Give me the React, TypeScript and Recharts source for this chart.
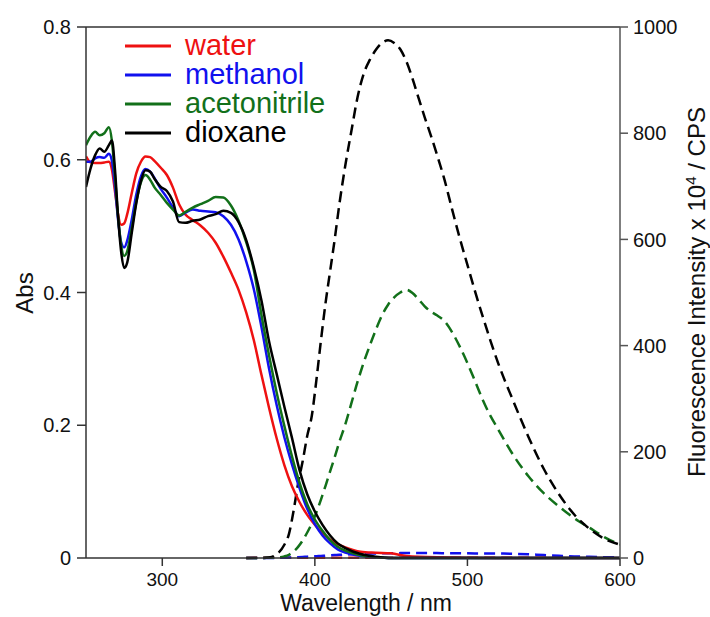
import React from 'react';
import { LineChart, Line, XAxis, YAxis, ReferenceLine, Label } from 'recharts';

// absorption spectra (left axis, Abs)
const absWavelength = [
  250, 253, 256, 259, 262, 265, 267, 269, 271, 273, 275, 277, 280, 283, 286, 289, 292, 295,
  299, 303, 307, 311, 315, 320, 325, 330, 335, 340, 345, 350, 355, 360, 365, 370, 375, 380,
  385, 390, 395, 400, 405, 410, 415, 420, 430, 440, 450, 460, 480, 520, 600,
];
const absWater = [
  0.605, 0.596, 0.595, 0.595, 0.596, 0.597, 0.585, 0.552, 0.518, 0.502, 0.504, 0.518, 0.55, 0.58, 0.597, 0.605, 0.604, 0.598,
  0.588, 0.577, 0.558, 0.533, 0.518, 0.509, 0.501, 0.49, 0.475, 0.454, 0.43, 0.404, 0.37, 0.328, 0.276, 0.226, 0.18, 0.14,
  0.108, 0.084, 0.065, 0.05, 0.037, 0.028, 0.021, 0.016, 0.0095, 0.008, 0.007, 0.003, 0.001, 0, 0,
];
const absMethanol = [
  0.597, 0.597, 0.602, 0.604, 0.603, 0.609, 0.598, 0.56, 0.51, 0.476, 0.468, 0.478, 0.51, 0.548, 0.575, 0.586, 0.582, 0.572,
  0.556, 0.543, 0.528, 0.515, 0.52, 0.525, 0.523, 0.522, 0.521, 0.515, 0.502, 0.48, 0.447, 0.405, 0.348, 0.285, 0.23, 0.182,
  0.141, 0.105, 0.074, 0.051, 0.034, 0.022, 0.013, 0.008, 0.003, 0.001, 0, 0, 0, 0, 0,
];
const absAcetonitrile = [
  0.622, 0.635, 0.642, 0.637, 0.64, 0.649, 0.628, 0.575, 0.515, 0.472, 0.455, 0.462, 0.497, 0.537, 0.566, 0.577, 0.57, 0.558,
  0.547, 0.535, 0.525, 0.516, 0.521, 0.528, 0.533, 0.538, 0.544, 0.543, 0.531, 0.508, 0.476, 0.434, 0.366, 0.305, 0.249, 0.199,
  0.153, 0.113, 0.081, 0.058, 0.041, 0.027, 0.017, 0.011, 0.004, 0.001, 0, 0, 0, 0, 0,
];
const absDioxane = [
  0.559, 0.587, 0.607, 0.617, 0.612, 0.622, 0.629, 0.585, 0.515, 0.462, 0.437, 0.445, 0.49, 0.535, 0.568, 0.584, 0.582, 0.571,
  0.559, 0.553, 0.537, 0.506, 0.505, 0.508, 0.51, 0.515, 0.518, 0.523, 0.52, 0.506, 0.479, 0.438, 0.388, 0.326, 0.277, 0.228,
  0.181, 0.132, 0.096, 0.07, 0.05, 0.034, 0.022, 0.015, 0.006, 0.002, 0, 0, 0, 0, 0,
];

// fluorescence spectra (right axis, x10^4 CPS)
const flWavelength = [
  355, 360, 365, 370, 375, 380, 383, 386, 389, 392, 395, 398, 401, 404, 407, 410, 413, 416,
  420, 424, 428, 432, 436, 440, 444, 448, 452, 456, 460, 464, 468, 472, 476, 480,
  485, 490, 495, 500, 505, 510, 515, 520, 530, 540, 550, 560, 570, 580, 590, 600,
];
const flWater = [
  0, 0.3, 0.5, 0.5, 0.5, 0.5, 0.5, 0.5, 0.5, 0.5, 0.5, 0.5, 0.5, 0.5, 0.5, 0.5, 0.5, 0.5,
  0.5, 0.5, 0.5, 0.5, 0.5, 0.5, 0.5, 0.5, 0.5, 0.5, 0.5, 0.5, 0.5, 0.5, 0.5, 0.5,
  0.5, 0.5, 0.5, 0.5, 0.5, 0.5, 0.5, 0.5, 0.5, 0.5, 0.5, 0.5, 0.5, 0.5, 0.5, 0.5,
];
const flMethanol = [
  0, 0, 0, 0, 0.3, 0.5, 0.8, 1, 1.5, 2, 2.5, 3, 3.5, 4, 4.5, 5, 5.5, 6,
  6.5, 7, 7.5, 8, 8.3, 8.6, 8.8, 9, 9.1, 9.2, 9.3, 9.3, 9.3, 9.3, 9.2, 9.2,
  9.1, 9, 8.9, 8.8, 8.7, 8.6, 8.5, 8.4, 8, 7, 5.5, 4.2, 3, 2.2, 1.5, 1,
];
const flAcetonitrile = [
  0, 0, 0, 0.5, 1, 3, 6, 12, 21, 33, 48, 65, 86, 110, 136, 163, 190, 218,
  252, 292, 332, 368, 400, 430, 457, 477, 491, 500, 505, 499, 487, 474, 464, 457,
  446, 425, 398, 367, 333, 298, 268, 243, 194, 154, 122, 97, 75, 57, 39, 25,
];
const flDioxane = [
  0, 0, 0, 1, 7, 25, 45, 88, 140, 182, 230, 268, 335, 410, 480, 540, 600, 665,
  740, 805, 868, 912, 938, 957, 970, 975, 970, 958, 935, 903, 866, 830, 796, 760,
  712, 656, 602, 552, 502, 455, 410, 368, 296, 228, 168, 120, 82, 55, 36, 25,
];

const xTicks = [300, 400, 500, 600];
const absTicks = [0, 0.2, 0.4, 0.6, 0.8];
const flTicks = [0, 200, 400, 600, 800, 1000];

const SOLVENTS = [
  { key: 'water', color: '#ee1111' },
  { key: 'methanol', color: '#1111ee' },
  { key: 'acetonitrile', color: '#12701a' },
  { key: 'dioxane', color: '#000000' },
];

const absData = absWavelength.map((wl, i) => ({
  wl,
  water: absWater[i],
  methanol: absMethanol[i],
  acetonitrile: absAcetonitrile[i],
  dioxane: absDioxane[i],
}));

const flData = flWavelength.map((wl, i) => ({
  wl,
  water: flWater[i],
  methanol: flMethanol[i],
  acetonitrile: flAcetonitrile[i],
  dioxane: flDioxane[i],
}));

const FONT = '"Liberation Sans", Arial, Helvetica, sans-serif';
const AXIS = '#333';
const axisLine = { stroke: AXIS, strokeWidth: 1.5 };
const tickStyle = { fill: '#111', fontSize: 20, fontFamily: FONT };

export default function App() {
  return (
    <div style={{ position: 'absolute', left: 0, top: 0, width: 710, height: 617, background: '#fff', fontFamily: FONT }}>
      <LineChart width={710} height={617} margin={{ top: 27, right: 0, bottom: 0, left: 0 }}>
        <XAxis
          type="number"
          dataKey="wl"
          domain={[250, 600]}
          ticks={xTicks}
          allowDataOverflow
          height={59}
          tickSize={8}
          tickMargin={7}
          axisLine={axisLine}
          tickLine={axisLine}
          tick={{ ...tickStyle, fontSize: 19 }}
        >
          <Label
            content={() => (
              <text x={366} y={611} textAnchor="middle" fontSize={23} fontFamily={FONT} fill="#111">
                Wavelength / nm
              </text>
            )}
          />
        </XAxis>
        <YAxis
          yAxisId="abs"
          type="number"
          domain={[0, 0.8]}
          ticks={absTicks}
          width={86}
          tickSize={9}
          tickMargin={6}
          axisLine={axisLine}
          tickLine={axisLine}
          tick={tickStyle}
        >
          <Label
            content={() => (
              <text x={33} y={293} transform="rotate(-90 33 293)" textAnchor="middle" fontSize={24} fontFamily={FONT} fill="#111">
                Abs
              </text>
            )}
          />
        </YAxis>
        <YAxis
          yAxisId="fl"
          orientation="right"
          type="number"
          domain={[0, 1000]}
          ticks={flTicks}
          width={90}
          tickSize={8}
          tickMargin={5}
          axisLine={{ stroke: '#555', strokeWidth: 1.5 }}
          tickLine={{ stroke: '#555', strokeWidth: 1.5 }}
          tick={tickStyle}
        >
          <Label
            content={() => (
              <text x={705} y={292} transform="rotate(-90 705 292)" textAnchor="middle" fontSize={24} fontFamily={FONT} fill="#111">
                <tspan>Fluorescence Intensity x 10</tspan>
                <tspan dy={-9} fontSize={15}>4</tspan>
                <tspan dy={9}> / CPS</tspan>
              </text>
            )}
          />
        </YAxis>
        <ReferenceLine yAxisId="abs" y={0.8} stroke={AXIS} strokeWidth={1.5} />

        {SOLVENTS.map((s) => (
          <Line
            key={`fl-${s.key}`}
            data={flData}
            yAxisId="fl"
            type="monotone"
            dataKey={s.key}
            stroke={s.color}
            strokeWidth={2.5}
            strokeDasharray="11 6"
            dot={false}
            activeDot={false}
            isAnimationActive={false}
          />
        ))}
        {SOLVENTS.map((s) => (
          <Line
            key={`abs-${s.key}`}
            data={absData}
            yAxisId="abs"
            type="monotone"
            dataKey={s.key}
            stroke={s.color}
            strokeWidth={2.5}
            dot={false}
            activeDot={false}
            isAnimationActive={false}
          />
        ))}
      </LineChart>

      {/* legend */}
      <svg width={710} height={617} style={{ position: 'absolute', left: 0, top: 0, pointerEvents: 'none' }}>
        {SOLVENTS.map((s, i) => (
          <g key={s.key}>
            <line x1={125} x2={171} y1={46 + i * 29} y2={46 + i * 29} stroke={s.color} strokeWidth={3} />
            <text x={185} y={55 + i * 29} fontSize={29} fontFamily={FONT} fill={s.color}>
              {s.key}
            </text>
          </g>
        ))}
      </svg>
    </div>
  );
}
